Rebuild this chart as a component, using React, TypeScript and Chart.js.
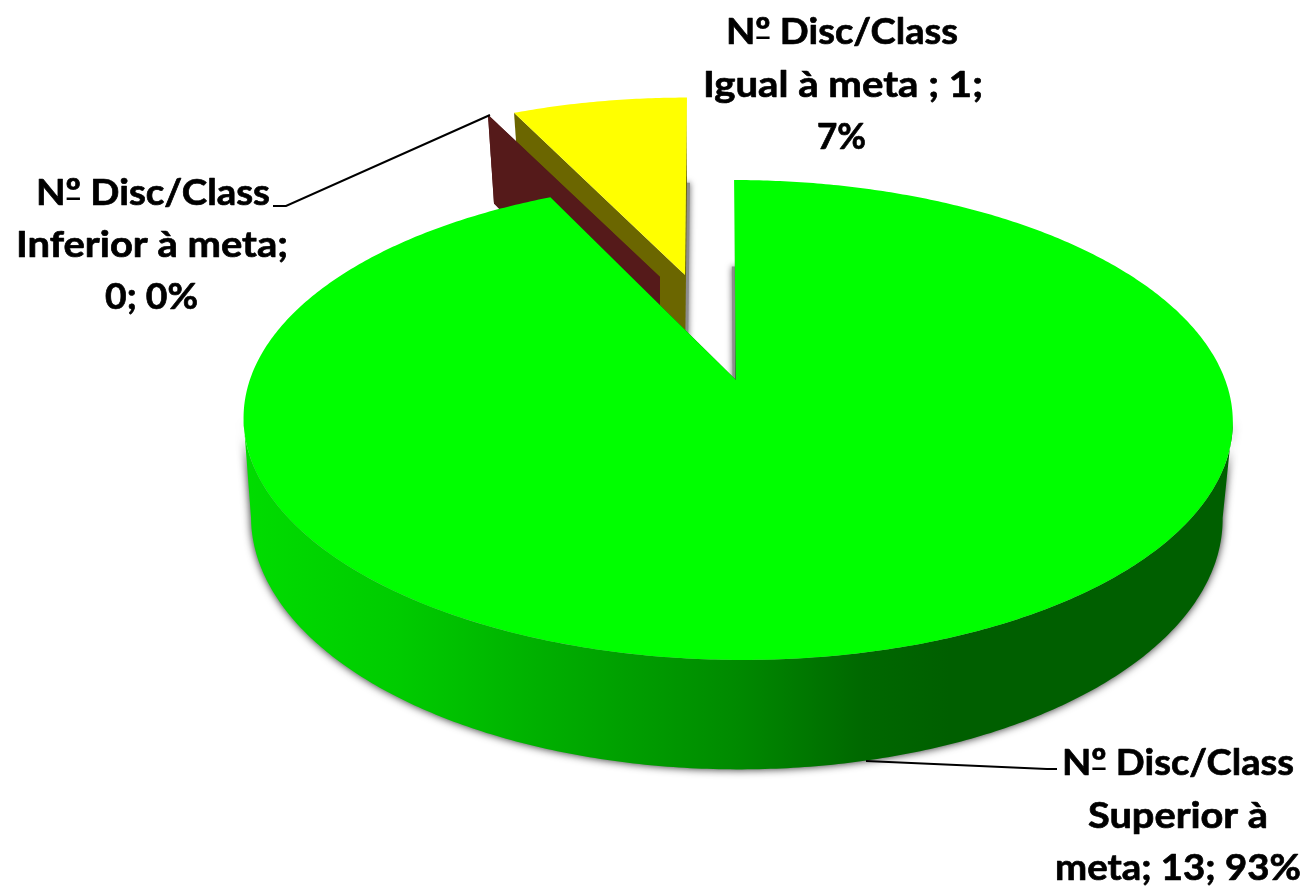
import React, { useEffect, useRef } from "react";
import { Chart, PieController, ArcElement } from "chart.js";

const categories = ["Superior à meta", "Inferior à meta", "Igual à meta"];
const seriesName = "Nº Disc/Class";
const values = [13, 0, 1];

const topColors = ["#00ff00", "#a52a2a", "#ffff00"];
const sideColors = ["#005f00", "#551a1a", "#6b6600"];

const labelLines = [
  [seriesName, "Superior à", "meta; 13; 93%"],
  [seriesName, "Inferior à meta;", "0; 0%"],
  [seriesName, "Igual à meta ; 1;", "7%"],
];

const FONT = 'bold 37px Lato, "Open Sans", sans-serif';

type Plane = { cx: number; cy: number; ax: number; A: number; B: number; k: number; t: number };

// projection of each slice's top and base disc (perspective view)
const geometry: { top: Plane; base: Plane; shadow: boolean }[] = [
  {
    top: { cx: 737.5, ax: 736, cy: 380, A: 487.7, B: 233.3, k: 1 / 6, t: 4 },
    base: { cx: 736.5, ax: 736, cy: 476, A: 479, B: 244.5, k: 1 / 6, t: 2 },
    shadow: true,
  },
  {
    top: { cx: 660, ax: 660, cy: 277, A: 456, B: 207, k: 1 / 6, t: 0 },
    base: { cx: 660, ax: 660, cy: 372, A: 440, B: 215, k: 1 / 6, t: 0 },
    shadow: false,
  },
  {
    top: { cx: 685, ax: 685, cy: 275, A: 458, B: 207, k: 1 / 6, t: -2.3 },
    base: { cx: 685, ax: 685, cy: 367, A: 442, B: 215, k: 1 / 6, t: -2.3 },
    shadow: true,
  },
];

const labelLayout = [
  { x: [1178, 1178, 1178], y: [775, 828, 880], w: [232, 180, 246] },
  { x: [153, 152, 151.5], y: [205, 257, 309], w: [234, 272, 93] },
  { x: [842, 843, 841.5], y: [44, 97, 149], w: [232, 280, 49] },
];

const leaders = [
  [[866, 761], [1047, 769], [1057, 769]],
  [[273, 206], [286, 206], [490, 115]],
];

const wallStops: [number, string][] = [
  [0, "#00dc00"],
  [0.15, "#00cc00"],
  [0.37, "#00a200"],
  [0.5, "#008a00"],
  [0.63, "#006800"],
  [0.72, "#005f00"],
  [1, "#005f00"],
];

function project(p: Plane, a: number): [number, number] {
  const s = Math.sin(a);
  const c = Math.cos(a);
  const d = 1 - p.k * s;
  return [p.cx + (p.A * c + p.t * s) / d, p.cy + (p.B * s) / d];
}

function arcPoints(p: Plane, a0: number, a1: number): [number, number][] {
  const n = Math.max(2, Math.ceil(Math.abs(a1 - a0) / 0.01));
  const out: [number, number][] = [];
  for (let i = 0; i <= n; i++) out.push(project(p, a0 + ((a1 - a0) * i) / n));
  return out;
}

function tracePath(ctx: CanvasRenderingContext2D, pts: [number, number][]) {
  ctx.beginPath();
  pts.forEach(([x, y], i) => (i ? ctx.lineTo(x, y) : ctx.moveTo(x, y)));
  ctx.closePath();
}

class Arc3D extends ArcElement {
  static id = "arc3d";
  paint(ctx: CanvasRenderingContext2D, index: number, side: string) {
    const { top, base, shadow } = geometry[index];
    const a0 = (this as any).startAngle as number;
    const a1 = (this as any).endAngle as number;
    const fill = (this as any).options.backgroundColor as string;
    ctx.save();

    // drop shadow of the rear radial edge of the base
    if (shadow) {
      const rear = a1 - a0 > Math.PI ? a0 : a1;
      ctx.save();
      ctx.shadowColor = "rgba(0,0,0,0.6)";
      ctx.shadowBlur = 6;
      ctx.strokeStyle = "#8c8c8c";
      ctx.lineWidth = 6;
      ctx.beginPath();
      ctx.moveTo(...project(base, rear));
      ctx.lineTo(base.ax, base.cy);
      ctx.stroke();
      ctx.restore();
    }

    // radial walls
    ctx.fillStyle = side;
    [a1, a0].forEach((a) => {
      tracePath(ctx, [[top.ax, top.cy], project(top, a), project(base, a), [base.ax, base.cy]]);
      ctx.fill();
    });

    // curved outer wall (only the part that faces the viewer)
    const f0 = Math.asin(top.k);
    const f1 = Math.PI - f0;
    const lo = Math.max(a0, f0);
    const hi = Math.min(a1, f1);
    if (hi > lo) {
      const g = ctx.createLinearGradient(250, 0, 1222, 0);
      wallStops.forEach(([o, c]) => g.addColorStop(o, c));
      ctx.save();
      ctx.shadowColor = "rgba(0,0,0,0.85)";
      ctx.shadowBlur = 8;
      ctx.fillStyle = g;
      tracePath(ctx, [...arcPoints(top, lo, hi), ...arcPoints(base, hi, lo)]);
      ctx.fill();
      ctx.restore();
    }

    // top face
    if (a1 > a0) {
      ctx.fillStyle = fill;
      tracePath(ctx, [[top.ax, top.cy], ...arcPoints(top, a0, a1)]);
      ctx.fill();
    }
    ctx.restore();
  }
}

class Pie3DController extends PieController {
  static id = "pie3d";
  static defaults = { dataElementType: "arc3d" };
  draw() {
    const ctx = (this as any).chart.ctx as CanvasRenderingContext2D;
    const els = (this as any)._cachedMeta.data as Arc3D[];
    const sides = (this as any).getDataset().sideColor as string[];
    for (let i = els.length - 1; i >= 0; i--) els[i].paint(ctx, i, sides[i]);
  }
}

const labelPlugin = {
  id: "pieLabels",
  afterDatasetsDraw(chart: any) {
    const ctx = chart.ctx as CanvasRenderingContext2D;
    ctx.save();
    ctx.strokeStyle = "#000";
    ctx.lineWidth = 2;
    leaders.forEach((l) => {
      ctx.beginPath();
      l.forEach(([x, y], i) => (i ? ctx.lineTo(x, y) : ctx.moveTo(x, y)));
      ctx.stroke();
    });
    ctx.fillStyle = "#000";
    ctx.font = FONT;
    ctx.lineWidth = 0.7;
    ctx.lineJoin = "round";
    ctx.textAlign = "left";
    ctx.textBaseline = "alphabetic";
    labelLines.forEach((lines, i) => {
      lines.forEach((t, j) => {
        const L = labelLayout[i];
        const sx = L.w[j] / ctx.measureText(t).width;
        ctx.save();
        ctx.translate(L.x[j] - L.w[j] / 2, L.y[j]);
        ctx.scale(sx, 1);
        ctx.fillText(t, 0, 0);
        ctx.strokeText(t, 0, 0);
        const ord = t.indexOf("º");
        if (ord >= 0) {
          const x0 = ctx.measureText(t.slice(0, ord)).width;
          const x1 = ctx.measureText(t.slice(0, ord + 1)).width;
          ctx.fillRect(x0 + 1, -7.5, x1 - x0 - 2, 2.5);
        }
        ctx.restore();
      });
    });
    ctx.restore();
  },
};

Chart.register(Pie3DController, Arc3D);

export default function App() {
  const ref = useRef<HTMLCanvasElement>(null);
  useEffect(() => {
    document.body.style.margin = "0";
    document.body.style.background = "#fff";
    const chart = new Chart(ref.current!, {
      type: "pie3d" as any,
      data: {
        labels: categories,
        datasets: [
          {
            label: seriesName,
            data: values,
            backgroundColor: topColors,
            sideColor: sideColors,
            borderWidth: 0,
          } as any,
        ],
      },
      options: {
        animation: false,
        responsive: false,
        events: [],
      } as any,
      plugins: [labelPlugin],
    });
    return () => chart.destroy();
  }, []);
  return (
    <div style={{ width: 1309, height: 886 }}>
      <canvas ref={ref} width={1309} height={886} style={{ display: "block" }} />
    </div>
  );
}
